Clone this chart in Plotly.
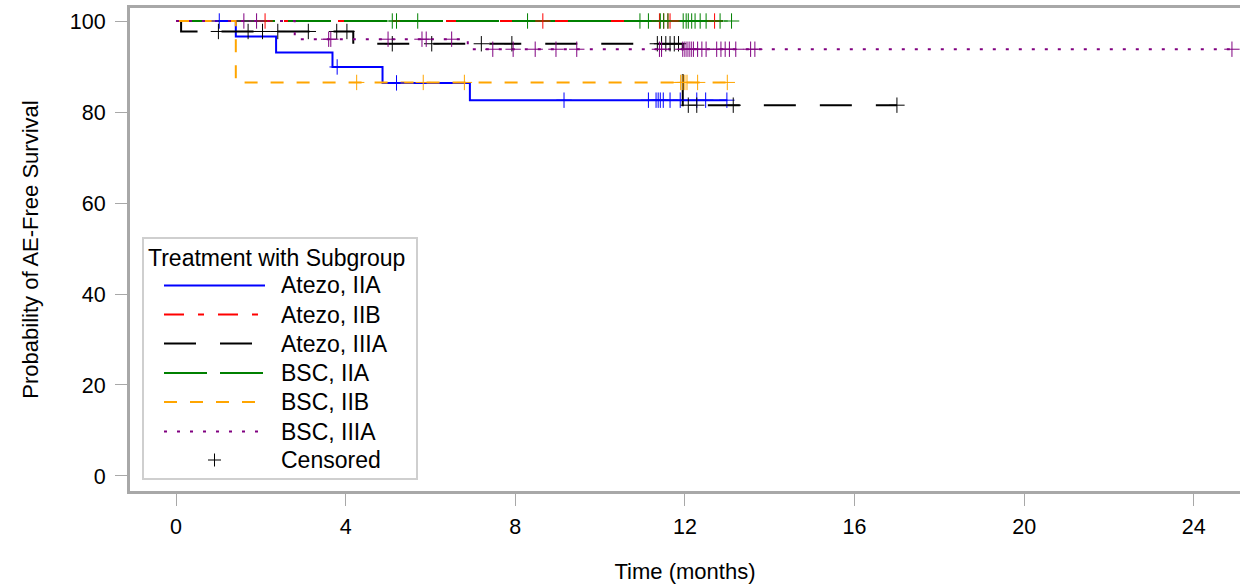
import plotly.graph_objects as go
import numpy as np

# ---- data ----
groups = ["Atezo, IIA", "Atezo, IIB", "Atezo, IIIA", "BSC, IIA", "BSC, IIB", "BSC, IIIA"]

atezo_iia_t = [0, 1.41, 2.36, 3.69, 4.87, 6.93, 13.0]
atezo_iia_s = [100, 96.6, 93.1, 89.9, 86.4, 82.6, 82.6]
atezo_iia_c = [1.02, 3.8, 5.2, 9.15, 11.14, 11.32, 11.37, 11.42, 11.49, 11.65, 11.89, 12.28, 12.49, 12.99]

atezo_iib_t = [0, 12.7]
atezo_iib_s = [100, 100]
atezo_iib_c = [2.1, 8.65, 11.4, 11.5, 11.6, 11.65, 12.7]

atezo_iiia_t = [0, 0.12, 4.18, 11.95, 17.0]
atezo_iiia_s = [100, 97.7, 95.0, 81.5, 81.5]
atezo_iiia_c = [1.0, 1.7, 2.04, 2.4, 3.12, 3.79, 4.03, 5.1, 6.03, 7.2, 7.92, 11.35, 11.45,
                11.55, 11.65, 11.75, 11.85, 12.08, 12.28, 13.14, 17.0]

bsc_iia_t = [0, 13.1]
bsc_iia_s = [100, 100]
bsc_iia_c = [5.1, 5.2, 5.7, 8.29, 10.94, 11.14, 11.42, 11.5, 11.6, 11.96, 12.03, 12.08, 12.16,
             12.24, 12.36, 12.5, 12.83, 13.1]

bsc_iib_t = [0, 1.41, 13.0]
bsc_iib_s = [100, 86.5, 86.5]
bsc_iib_c = [4.26, 5.83, 6.8, 11.9, 11.95, 12.0, 12.05, 12.3, 13.0]

bsc_iiia_t = [0, 2.8, 6.88, 25.0]
bsc_iiia_s = [100, 96.0, 93.8, 93.8]
bsc_iiia_c = [1.6, 1.9, 3.6, 3.65, 5.0, 5.8, 5.9, 6.5, 7.47, 7.95, 8.47, 8.96, 9.45, 11.4, 11.45,
              11.95, 12.0, 12.05, 12.1, 12.15, 12.2, 12.3, 12.4, 12.5, 12.75, 12.85, 12.95, 13.05,
              13.2, 13.55, 13.65, 24.9]

x_ticks = [0, 4, 8, 12, 16, 20, 24]
y_ticks = [0, 20, 40, 60, 80, 100]
legend_title = "Treatment with Subgroup"
censored_label = "Censored"

# ---- styles ----
series = [
    (groups[0], atezo_iia_t, atezo_iia_s, atezo_iia_c, "#0000ff", "solid"),
    (groups[1], atezo_iib_t, atezo_iib_s, atezo_iib_c, "#ff0000", "20px,14px,6px,14px"),
    (groups[2], atezo_iiia_t, atezo_iiia_s, atezo_iiia_c, "#000000", "32px,24px"),
    (groups[3], bsc_iia_t, bsc_iia_s, bsc_iia_c, "#008000", "43px,13px"),
    (groups[4], bsc_iib_t, bsc_iib_s, bsc_iib_c, "#ffa500", "13px,13px"),
    (groups[5], bsc_iiia_t, bsc_iiia_s, bsc_iiia_c, "#800080", "3px,10px"),
]

FONT = "Liberation Sans, Arial, sans-serif"
FS_TICK = 21.5
FS_TITLE = 22
FS_LEG = 23
fig = go.Figure()


def step_value(t_list, s_list, t):
    idx = np.searchsorted(np.array(t_list), t, side="right") - 1
    return s_list[max(idx, 0)]


for name, t, s, c, col, dash in series:
    fig.add_trace(go.Scatter(x=t, y=s, mode="lines", name=name,
                             line=dict(color=col, width=2, dash=dash, shape="hv"),
                             showlegend=False))
for name, t, s, c, col, dash in series:
    cy = [step_value(t, s, ci) for ci in c]
    fig.add_trace(go.Scatter(x=c, y=cy, mode="markers", showlegend=False, name=name + " censored",
                             marker=dict(symbol="cross-thin", size=11, color=col,
                                         line=dict(color=col, width=1))))

# ---- manual legend (page pixel positions -> paper coords) ----
PL, PR, PT, PB = 130, 1240, 8, 491


def px(X):
    return (X - PL) / (PR - PL)


def py(Y):
    return (PB - Y) / (PB - PT)


shapes = []
annotations = []
shapes.append(dict(type="rect", xref="paper", yref="paper", x0=px(143), x1=px(417), y0=py(479), y1=py(238),
                   line=dict(color="#cfcfcf", width=2), fillcolor="white", layer="above"))
annotations.append(dict(xref="paper", yref="paper", x=px(146), y=py(258), text=legend_title, showarrow=False,
                        xanchor="left", yanchor="middle", font=dict(size=FS_LEG, family=FONT, color="black")))
row_y = [285.5, 314.5, 343.5, 373, 402, 431.5, 460]
for i, (name, t, s, c, col, dash) in enumerate(series):
    shapes.append(dict(type="line", xref="paper", yref="paper", x0=px(164), x1=px(265), y0=py(row_y[i]),
                       y1=py(row_y[i]), line=dict(color=col, width=2, dash=dash), layer="above"))
    annotations.append(dict(xref="paper", yref="paper", x=px(279), y=py(row_y[i]), text=name, showarrow=False,
                            xanchor="left", yanchor="middle", font=dict(size=FS_LEG, family=FONT, color="black")))
cy0 = row_y[6]
shapes.append(dict(type="line", xref="paper", yref="paper", x0=px(208), x1=px(221), y0=py(cy0), y1=py(cy0),
                   line=dict(color="black", width=1), layer="above"))
shapes.append(dict(type="line", xref="paper", yref="paper", x0=px(214.5), x1=px(214.5), y0=py(cy0 - 6.5),
                   y1=py(cy0 + 6.5), line=dict(color="black", width=1), layer="above"))
annotations.append(dict(xref="paper", yref="paper", x=px(279), y=py(cy0), text=censored_label, showarrow=False,
                        xanchor="left", yanchor="middle", font=dict(size=FS_LEG, family=FONT, color="black")))

fig.update_layout(
    width=1240, height=584,
    margin=dict(l=PL, r=0, t=PT, b=584 - PB),
    paper_bgcolor="white", plot_bgcolor="white",
    font=dict(family=FONT, size=FS_TICK, color="black"),
    showlegend=False,
    shapes=shapes, annotations=annotations,
    xaxis=dict(
        range=[-1.085, 25.09], tickvals=x_ticks, showgrid=False, zeroline=False,
        showline=True, linecolor="#a8a8a8", linewidth=3, mirror=True,
        ticks="outside", ticklen=12, tickcolor="#a8a8a8", tickwidth=1,
        ticklabelstandoff=2, tickfont=dict(size=FS_TICK),
        title=dict(text="Time (months)", standoff=26, font=dict(size=FS_TITLE)),
    ),
    yaxis=dict(
        range=[-3.3, 102.86], tickvals=y_ticks, showgrid=False, zeroline=False,
        showline=True, linecolor="#a8a8a8", linewidth=3, mirror=False,
        ticks="outside", ticklen=12, tickcolor="#a8a8a8", tickwidth=1,
        ticklabelstandoff=5, tickfont=dict(size=FS_TICK),
        title=dict(text="Probability of AE-Free Survival", standoff=26, font=dict(size=FS_TITLE)),
    ),
)

fig.write_html(
    "out.html",
    config={"displayModeBar": False},
    post_script="document.body.style.margin='0';document.documentElement.style.overflow='hidden';",
)
